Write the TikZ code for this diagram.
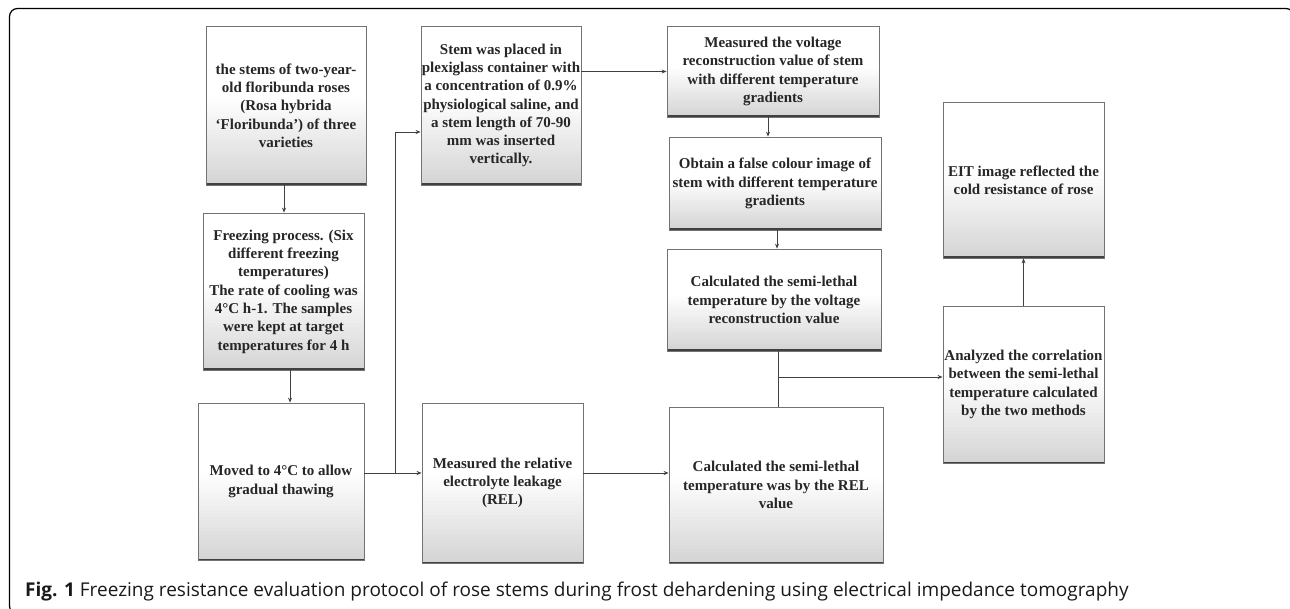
\documentclass[tikz,border=0pt]{standalone}
\usepackage{fontspec}
\setmainfont{Liberation Serif}
\newfontfamily\capfont{Open Sans}
\usetikzlibrary{arrows.meta,calc}
\begin{document}
\begin{tikzpicture}[x=1pt,y=1pt,
  box/.style={draw=black!55, line width=0.8pt, fill=white,
    inner sep=0pt, align=center, font=\fontsize{15}{18.3}\selectfont\bfseries, text=black!85,
    path picture={
      \foreach \k in {1,...,24}{
        \pgfmathsetmacro\lo{(\k-1)/24*0.55}
        \pgfmathsetmacro\hi{\k/24*0.55+0.003}
        \pgfmathsetmacro\cc{(24-\k+0.5)/24*17}
        \fill[black!\cc] ($(path picture bounding box.south west)!\lo!(path picture bounding box.north west)$) rectangle ($(path picture bounding box.south east)!\hi!(path picture bounding box.north east)$);
      }
      \draw[black!75,line width=3pt] (path picture bounding box.south west) -- (path picture bounding box.south east);}},
  arr/.style={draw=black!75, line width=0.8pt, -{Stealth[length=5pt,width=4pt]}},
  ln/.style={draw=black!75, line width=0.8pt}]
\clip (0,0) rectangle (1290,-609);
\draw[line width=1.2pt, rounded corners=8pt] (9.5,-8.5) rectangle (1294,-614);

\node[box, minimum width=160pt, minimum height=159pt] (A) at (286,-105.5)
  {the stems of two-year-\\old floribunda roses\\(Rosa hybrida\\‘Floribunda’) of three\\varieties};
\node[box, minimum width=160pt, minimum height=159pt] (B) at (501,-105.5)
  {Stem was placed in\\plexiglass container with\\a concentration of 0.9\%\\physiological saline, and\\a stem length of 70-90\\mm was inserted\\vertically.};
\node[box, minimum width=161pt, minimum height=157pt] (C) at (283.5,-291.5)
  {Freezing process. (Six\\different freezing\\temperatures)\\The rate of cooling was\\4°C h-1. The samples\\were kept at target\\temperatures for 4 h};
\node[box, minimum width=166pt, minimum height=157pt] (D) at (281,-481.5)
  {Moved to 4°C to allow\\gradual thawing};
\node[box, minimum width=161pt, minimum height=160pt] (E) at (502.5,-483)
  {Measured the relative\\electrolyte leakage\\(REL)};
\node[box, minimum width=212pt, minimum height=91pt] (F) at (773,-71.5)
  {Measured the voltage\\reconstruction value of stem\\with different temperature\\gradients};
\node[box, minimum width=212pt, minimum height=93pt] (G) at (775,-183.5)
  {Obtain a false colour image of\\stem with different temperature\\gradients};
\node[box, minimum width=214pt, minimum height=102pt] (H) at (774,-300)
  {Calculated the semi-lethal\\temperature by the voltage\\reconstruction value};
\node[box, minimum width=214pt, minimum height=156pt] (I) at (776,-485)
  {Calculated the semi-lethal\\temperature was by the REL\\value};
\node[box, minimum width=161pt, minimum height=157pt] (J) at (1023.5,-384.5)
  {Analyzed the correlation\\between the semi-lethal\\temperature calculated\\by the two methods};
\node[box, minimum width=161pt, minimum height=156pt] (K) at (1023.5,-180)
  {EIT image reflected the\\cold resistance of rose};

\coordinate (j1) at (395,-473);
\coordinate (j2) at (395,-132);
\coordinate (j4) at (778,-377);

\draw[arr] ([xshift=-2pt]A.south) -- ([xshift=-2pt]A.south |- C.north);
\draw[arr] ([xshift=6.5pt]C.south) -- ([xshift=6.5pt]C.south |- D.north);
\draw[arr] (D.east |- j1) -- (E.west |- j1);
\draw[arr] (j1) -- (j2) -- (B.west |- j2);
\draw[arr] (B.east |- F.west) -- (F.west);
\draw[arr] ([xshift=-5pt]F.south) -- ([xshift=-5pt]F.south |- G.north);
\draw[arr] ([xshift=2pt]G.south) -- ([xshift=2pt]G.south |- H.north);
\draw[arr] (E.east |- j1) -- (I.west |- j1);
\draw[ln] ([xshift=4pt]H.south) -- ([xshift=4pt]H.south |- I.north);
\draw[arr] (j4) -- (J.west |- j4);
\draw[arr] (J.north) -- (K.south);

\node[anchor=base west, inner sep=0pt, font=\capfont\fontsize{19}{22}\selectfont, text=black!90] (cap) at (25,-596)
  {\textbf{Fig. 1} Freezing resistance evaluation protocol of rose stems during frost dehardening using electrical impedance tomography};
\end{tikzpicture}
\end{document}
